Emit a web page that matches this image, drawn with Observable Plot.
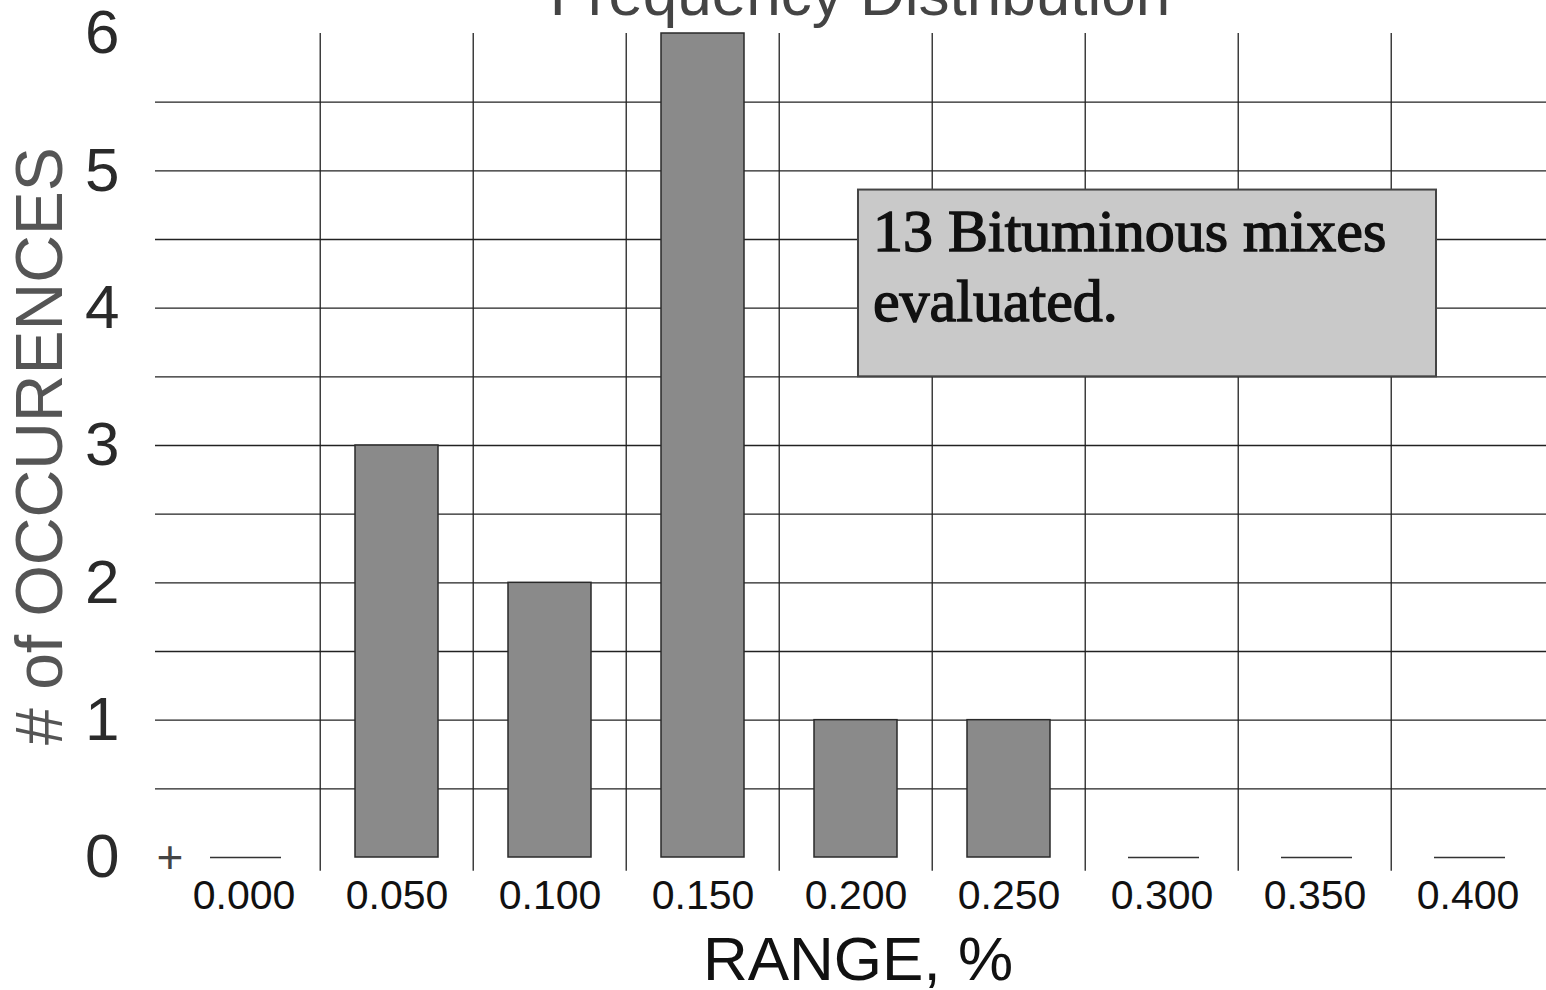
<!DOCTYPE html>
<html>
<head>
<meta charset="utf-8">
<script src="https://cdn.jsdelivr.net/npm/d3@7"></script>
<script src="https://cdn.jsdelivr.net/npm/@observablehq/plot@0.6"></script>
<style>
  html, body { margin: 0; padding: 0; background: #fff; overflow: hidden; }
  #chart { position: relative; width: 1546px; height: 990px; }
  svg { font-family: "Liberation Sans", Arial, sans-serif; }
</style>
</head>
<body>
<div id="chart"></div>
<script>
const categories = ["0.000", "0.050", "0.100", "0.150", "0.200", "0.250", "0.300", "0.350", "0.400"];
const counts = [0, 3, 2, 6, 1, 1, 0, 0, 0];
const yTicks = [0, 1, 2, 3, 4, 5, 6];
const gridValues = [0.5, 1, 1.5, 2, 2.5, 3, 3.5, 4, 4.5, 5, 5.5];
const titleText = "Frequency Distribution";
const xLabel = "RANGE, %";
const yLabel = "# of OCCURENCES";
const noteLines = ["13 Bituminous mixes", "evaluated."];

const data = categories.map((c, i) => ({range: c, count: counts[i]}));

const W = 1546, H = 990, mL = 164, mR = 0;
const step = (W - mL - mR) / categories.length;

const plot = Plot.plot({
  width: W,
  height: H,
  marginTop: 33,
  marginBottom: 133,
  marginLeft: mL,
  marginRight: mR,
  style: {background: "#fff", overflow: "visible"},
  x: {domain: categories, paddingInner: 0.46, paddingOuter: 0.23, label: null},
  y: {domain: [0, 6], label: null},
  marks: [
    Plot.ruleY(gridValues, {stroke: "#222", strokeWidth: 1.3, insetLeft: -9}),
    Plot.ruleX(categories.slice(1), {x: d => d, dx: -step / 2, y1: -0.1, y2: 6, stroke: "#222", strokeWidth: 1.3}),
    Plot.barY(data, {x: "range", y: "count", fill: "#8a8a8a", stroke: "#2a2a2a", strokeWidth: 1.5}),
    Plot.tickY(data.filter(d => d.count === 0), {x: "range", y: "count", stroke: "#333", strokeWidth: 1.5, insetLeft: 8, insetRight: 4}),
    Plot.axisY({ticks: yTicks, tickSize: 0, tickPadding: 45, fontSize: 62, fill: "#2a2a2a", label: null, tickFormat: d => String(d)}),
    Plot.axisX({tickSize: 0, tickPadding: 22, fontSize: 41, fill: "#111", label: null})
  ]
});

document.getElementById("chart").appendChild(plot);

const svg = d3.select(plot);
const xs = plot.scale("x"), ys = plot.scale("y");

// title (cut off at top, as in the reference)
svg.append("text")
  .attr("x", 860).attr("y", 15)
  .attr("text-anchor", "middle")
  .attr("font-size", 62)
  .attr("fill", "#444")
  .text(titleText);

// x label
svg.append("text")
  .attr("x", 858).attr("y", 980)
  .attr("text-anchor", "middle")
  .attr("font-size", 62)
  .attr("fill", "#111")
  .text(xLabel);

// y label
svg.append("text")
  .attr("transform", "translate(62,446) rotate(-90)")
  .attr("text-anchor", "middle")
  .attr("font-size", 66)
  .attr("fill", "#555")
  .text(yLabel);

// "+" tick at origin
svg.append("text")
  .attr("x", 170).attr("y", ys.apply(0) + 16)
  .attr("text-anchor", "middle")
  .attr("font-size", 46)
  .attr("font-weight", 300)
  .attr("fill", "#444")
  .text("+");

// annotation box
const bx1 = xs.apply("0.200") + xs.bandwidth * 0.53;
const bx2 = xs.apply("0.400") + 10;
const by1 = ys.apply(4.86), by2 = ys.apply(3.5);
svg.append("rect")
  .attr("x", bx1).attr("y", by1)
  .attr("width", bx2 - bx1).attr("height", by2 - by1)
  .attr("fill", "#c9c9c9")
  .attr("stroke", "#444")
  .attr("stroke-width", 2);
noteLines.forEach((t, i) => {
  svg.append("text")
    .attr("x", bx1 + 15)
    .attr("y", by1 + 61 + i * 70)
    .attr("text-anchor", "start")
    .attr("font-family", "'Liberation Serif', 'Times New Roman', serif")
    .attr("font-size", 60)
    .attr("fill", "#111")
    .attr("stroke", "#111")
    .attr("stroke-width", 1.4)
    .text(t);
});
</script>
</body>
</html>
